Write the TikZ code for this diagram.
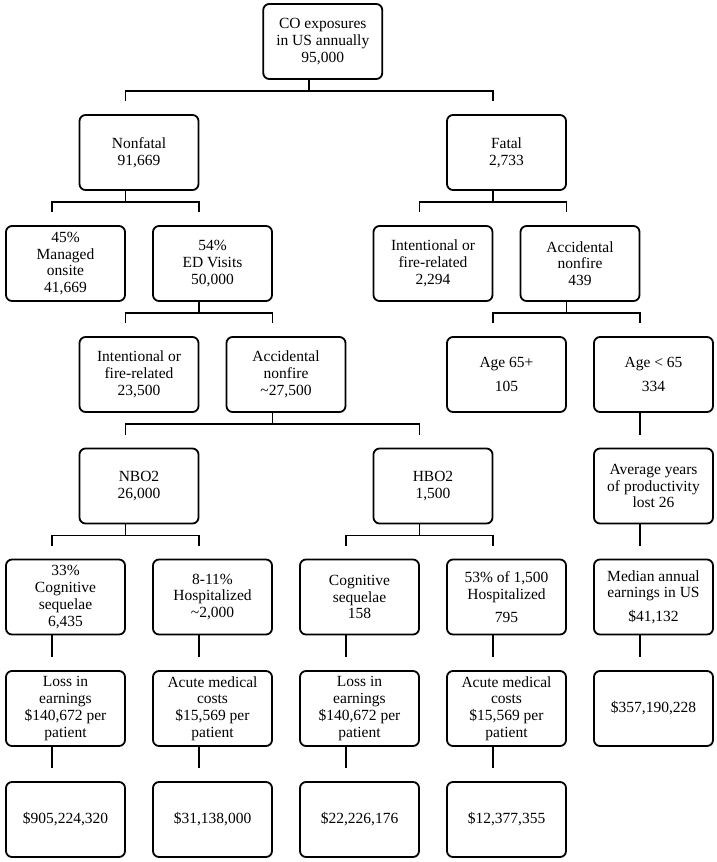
\documentclass[tikz,border=0pt]{standalone}
\usepackage{fontspec}
\setmainfont{Liberation Serif}
\usetikzlibrary{calc}
\tikzset{
  box/.style={draw=black, line width=1.8pt, rounded corners=6pt,
    minimum width=119pt, minimum height=75pt, inner sep=0pt, align=center,
    font=\fontsize{15.5}{16.7}\selectfont},
  conn/.style={draw=black, line width=1.8pt}
}
\newcommand{\brk}[3]{%
  \draw[conn] ([xshift=-13.5pt]#1.south) -- ++(0,-11pt) coordinate (junc-#1);
  \draw[conn] ([xshift=-13.5pt,yshift=13pt]#2.north) |- (junc-#1) -| ([xshift=-13.5pt,yshift=13pt]#3.north);}
\newcommand{\lnk}[2]{%
  \draw[conn] ([xshift=-13.5pt]#1.south) -- ([xshift=-13.5pt,yshift=13pt]#2.north);}
\begin{document}
\begin{tikzpicture}[x=1pt,y=1pt]
\useasboundingbox (0,0) rectangle (716,-862);
\node[box] (top) at (322.75,-41.5) {CO exposures\\in US annually\\95,000};
\node[box] (nf) at (139,-152.5) {Nonfatal\\91,669};
\node[box] (fa) at (506.5,-152.5) {Fatal\\2,733};
\node[box] (mo) at (65.5,-263.5) {45\%\\Managed\\onsite\\41,669};
\node[box] (ed) at (212.5,-263.5) {54\%\\ED Visits\\50,000};
\node[box] (fi) at (433,-263.5) {Intentional or\\fire-related\\2,294};
\node[box] (fan) at (580,-263.5) {Accidental\\nonfire\\439};
\node[box] (ni) at (139,-374.5) {Intentional or\\fire-related\\23,500};
\node[box] (na) at (286,-374.5) {Accidental\\nonfire\\\textasciitilde 27,500};
\node[box] (ao) at (506.5,-374.5) {Age 65+\\[6.6pt]105};
\node[box] (ay) at (653.5,-374.5) {Age < 65\\[6.6pt]334};
\node[box] (nbo) at (139,-486) {NBO2\\26,000};
\node[box] (hbo) at (433,-486) {HBO2\\1,500};
\node[box] (avg) at (653.5,-486) {Average years\\of productivity\\lost 26};
\node[box] (cs) at (65.5,-597) {33\%\\Cognitive\\sequelae\\6,435};
\node[box] (ho) at (212.5,-597) {8-11\%\\Hospitalized\\\textasciitilde 2,000};
\node[box] (cs2) at (359.5,-597) {Cognitive\\sequelae\\158};
\node[box] (ho2) at (506.5,-597) {53\% of 1,500\\Hospitalized\\[6.6pt]795};
\node[box] (earn) at (653.5,-597) {Median annual\\earnings in US\\[6.6pt]\$41,132};
\node[box] (le) at (65.5,-708.5) {Loss in\\earnings\\\$140,672 per\\patient};
\node[box] (am) at (212.5,-708.5) {Acute medical\\costs\\\$15,569 per\\patient};
\node[box] (le2) at (359.5,-708.5) {Loss in\\earnings\\\$140,672 per\\patient};
\node[box] (am2) at (506.5,-708.5) {Acute medical\\costs\\\$15,569 per\\patient};
\node[box] (tot) at (653.5,-708.5) {\$357,190,228};
\node[box] (r0) at (65.5,-819.5) {\$905,224,320};
\node[box] (r2) at (212.5,-819.5) {\$31,138,000};
\node[box] (r4) at (359.5,-819.5) {\$22,226,176};
\node[box] (r6) at (506.5,-819.5) {\$12,377,355};
% connectors
\brk{top}{nf}{fa}
\brk{nf}{mo}{ed}
\brk{fa}{fi}{fan}
\brk{ed}{ni}{na}
\brk{fan}{ao}{ay}
\brk{na}{nbo}{hbo}
\brk{nbo}{cs}{ho}
\brk{hbo}{cs2}{ho2}
\lnk{ay}{avg}
\lnk{avg}{earn}
\lnk{cs}{le}
\lnk{ho}{am}
\lnk{cs2}{le2}
\lnk{ho2}{am2}
\lnk{earn}{tot}
\lnk{le}{r0}
\lnk{am}{r2}
\lnk{le2}{r4}
\lnk{am2}{r6}
\end{tikzpicture}
\end{document}
